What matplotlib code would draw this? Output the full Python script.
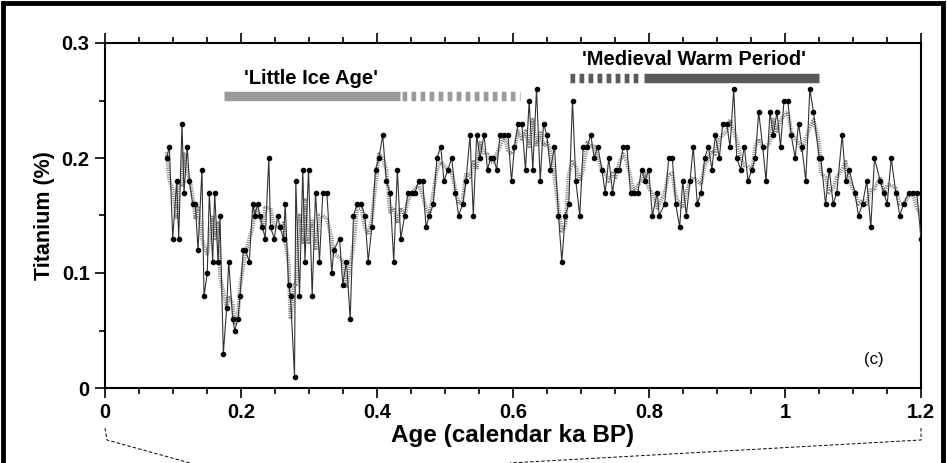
import numpy as np
import pandas as pd
import matplotlib
matplotlib.use("Agg")
import matplotlib.pyplot as plt
from matplotlib.patches import Rectangle
from matplotlib.lines import Line2D

plt.rcParams['font.family'] = ['Liberation Sans', 'DejaVu Sans']
plt.rcParams['lines.scale_dashes'] = False

# ── data ──────────────────────────────────────────────────────────────────────
age = [0.0907, 0.0946, 0.0996, 0.1054, 0.1084, 0.1132, 0.1162, 0.1210, 0.1240, 0.1290,
       0.1328, 0.1368, 0.1426, 0.1456, 0.1504, 0.1534, 0.1584, 0.1613, 0.1662, 0.1691,
       0.1740, 0.1790, 0.1819, 0.1878, 0.1907, 0.1956, 0.1985, 0.2034, 0.2066, 0.2121,
       0.2174, 0.2203, 0.2243, 0.2276, 0.2316, 0.2356, 0.2409, 0.2434, 0.2488, 0.2541,
       0.2571, 0.2625, 0.2650, 0.2699, 0.2728, 0.2787, 0.2806, 0.2860, 0.2909, 0.2941,
       0.2993, 0.3047, 0.3096, 0.3154, 0.3203, 0.3262, 0.3335, 0.3365, 0.3449, 0.3497,
       0.3551, 0.3606, 0.3654, 0.3709, 0.3768, 0.3821, 0.3871, 0.3924, 0.3978, 0.4029,
       0.4084, 0.4137, 0.4191, 0.4246, 0.4299, 0.4349, 0.4407, 0.4456, 0.4510, 0.4559,
       0.4613, 0.4672, 0.4721, 0.4769, 0.4828, 0.4882, 0.4937, 0.4985, 0.5044, 0.5099,
       0.5151, 0.5201, 0.5260, 0.5309, 0.5368, 0.5416, 0.5466, 0.5515, 0.5574, 0.5625,
       0.5672, 0.5713, 0.5760, 0.5809, 0.5868, 0.5926, 0.5978, 0.6022, 0.6074, 0.6129,
       0.6184, 0.6238, 0.6291, 0.6346, 0.6400, 0.6449, 0.6497, 0.6551, 0.6610, 0.6669,
       0.6718, 0.6768, 0.6821, 0.6875, 0.6924, 0.6982, 0.7032, 0.7091, 0.7144, 0.7194,
       0.7247, 0.7306, 0.7356, 0.7409, 0.7463, 0.7512, 0.7566, 0.7621, 0.7674, 0.7728,
       0.7776, 0.7835, 0.7890, 0.7941, 0.7996, 0.8049, 0.8122, 0.8151, 0.8231, 0.8290,
       0.8343, 0.8393, 0.8451, 0.8496, 0.8549, 0.8603, 0.8651, 0.8710, 0.8765, 0.8819,
       0.8872, 0.8926, 0.8975, 0.9034, 0.9084, 0.9143, 0.9191, 0.9246, 0.9290, 0.9349,
       0.9401, 0.9456, 0.9515, 0.9563, 0.9613, 0.9672, 0.9721, 0.9779, 0.9828, 0.9882,
       0.9934, 0.9985, 1.0041, 1.0091, 1.0150, 1.0199, 1.0247, 1.0306, 1.0365, 1.0419,
       1.0503, 1.0526, 1.0596, 1.0650, 1.0709, 1.0762, 1.0841, 1.0894, 1.0944, 1.1026,
       1.1081, 1.1140, 1.1203, 1.1262, 1.1316, 1.1400, 1.1453, 1.1503, 1.1562, 1.1629,
       1.1688, 1.1743, 1.1821, 1.1875, 1.1938, 1.2000]
ti = [0.20, 0.21, 0.13, 0.18, 0.13, 0.23, 0.17, 0.21, 0.18, 0.16,
      0.16, 0.12, 0.19, 0.08, 0.10, 0.17, 0.11, 0.17, 0.11, 0.15,
      0.03, 0.07, 0.11, 0.06, 0.05, 0.06, 0.08, 0.12, 0.12, 0.11,
      0.16, 0.15, 0.16, 0.15, 0.14, 0.13, 0.20, 0.14, 0.13, 0.15,
      0.14, 0.13, 0.16, 0.09, 0.08, 0.01, 0.18, 0.08, 0.19, 0.11,
      0.19, 0.08, 0.17, 0.11, 0.17, 0.17, 0.10, 0.12, 0.13, 0.09,
      0.11, 0.06, 0.15, 0.16, 0.16, 0.15, 0.11, 0.14, 0.19, 0.20,
      0.22, 0.18, 0.17, 0.11, 0.19, 0.13, 0.15, 0.17, 0.17, 0.17,
      0.18, 0.18, 0.14, 0.15, 0.16, 0.20, 0.21, 0.18, 0.19, 0.20,
      0.17, 0.15, 0.16, 0.18, 0.22, 0.15, 0.22, 0.20, 0.22, 0.19,
      0.20, 0.20, 0.19, 0.22, 0.22, 0.22, 0.18, 0.21, 0.23, 0.23,
      0.19, 0.25, 0.19, 0.26, 0.18, 0.23, 0.22, 0.19, 0.21, 0.15,
      0.11, 0.15, 0.16, 0.25, 0.18, 0.15, 0.21, 0.21, 0.22, 0.20,
      0.21, 0.19, 0.17, 0.20, 0.17, 0.19, 0.19, 0.21, 0.21, 0.17,
      0.17, 0.17, 0.19, 0.18, 0.19, 0.15, 0.17, 0.15, 0.16, 0.20,
      0.20, 0.16, 0.14, 0.18, 0.15, 0.18, 0.21, 0.16, 0.17, 0.20,
      0.21, 0.19, 0.22, 0.20, 0.23, 0.23, 0.21, 0.26, 0.20, 0.19,
      0.21, 0.18, 0.19, 0.20, 0.24, 0.21, 0.18, 0.24, 0.22, 0.24,
      0.21, 0.25, 0.25, 0.22, 0.20, 0.23, 0.21, 0.18, 0.26, 0.24,
      0.20, 0.20, 0.16, 0.19, 0.16, 0.17, 0.22, 0.18, 0.19, 0.17,
      0.15, 0.16, 0.18, 0.14, 0.20, 0.18, 0.17, 0.16, 0.20, 0.17,
      0.15, 0.16, 0.17, 0.17, 0.17, 0.13]

# climate periods: (solid start, solid end), (dashed start, dashed end)
lia_solid = (0.1755, 0.4338)
lia_dash = (0.4370, 0.6100)
mwp_dash = (0.6840, 0.7890)
mwp_solid = (0.7920, 1.0495)

# ── figure ────────────────────────────────────────────────────────────────────
fig = plt.figure(figsize=(9.47, 4.63), dpi=100)
ax = fig.add_axes([105/947, 1-388/463, 816/947, 345/463])

smooth = pd.Series(ti).rolling(3, center=True, min_periods=1).mean()
ax.plot(age, smooth, color='#8a8a8a', lw=2.8, ls=(0, (0.8, 0.8)), zorder=2)
ax.plot(age, ti, color='#333333', lw=0.8, marker='o', ms=3.0,
        mfc='black', mec='black', zorder=3)

# period bars
bar_lw = 6.8
ax.plot(lia_solid, [0.2543]*2, color='#9a9a9a', lw=bar_lw, solid_capstyle='butt')
ax.plot(lia_dash, [0.2543]*2, color='#9a9a9a', lw=bar_lw, ls=(0, (3.4, 3.1)),
        dash_capstyle='butt')
ax.plot(mwp_dash, [0.2698]*2, color='#5a5a5a', lw=bar_lw, ls=(0, (3.4, 3.1)),
        dash_capstyle='butt')
ax.plot(mwp_solid, [0.2698]*2, color='#5a5a5a', lw=bar_lw, solid_capstyle='butt')
ax.text(0.303, 0.261, "'Little Ice Age'", ha='center', va='bottom',
        fontsize=14.5, fontweight='bold')
ax.text(0.866, 0.2775, "'Medieval Warm Period'", ha='center', va='bottom',
        fontsize=14.5, fontweight='bold')
ax.text(1.13, 0.018, "(c)", ha='center', va='bottom', fontsize=12)

ax.set_xlim(0, 1.2)
ax.set_ylim(0, 0.3)
ax.set_xticks([0, 0.2, 0.4, 0.6, 0.8, 1.0, 1.2])
ax.set_xticklabels(['0', '0.2', '0.4', '0.6', '0.8', '1', '1.2'])
ax.set_xticks(np.arange(0, 1.21, 0.05), minor=True)
ax.set_yticks([0, 0.1, 0.2, 0.3])
ax.set_yticklabels(['0', '0.1', '0.2', '0.3'])
ax.set_yticks(np.arange(0, 0.31, 0.05), minor=True)
ax.tick_params(which='both', direction='out', top=True, right=False, width=1.2,
               labelsize=14.5)
ax.tick_params(which='major', length=7, pad=4)
ax.tick_params(which='minor', length=4)
for lab in ax.get_xticklabels() + ax.get_yticklabels():
    lab.set_fontweight('bold')
for sp in ax.spines.values():
    sp.set_linewidth(1.5)
ax.set_xlabel('Age (calendar ka BP)', fontsize=17.5, fontweight='bold', labelpad=1)
ax.set_ylabel('Titanium (%)', fontsize=15.5, fontweight='bold', labelpad=5)

# frame round the panel and the dashed connectors below it
fig.patches.append(Rectangle((3/947, -0.2), 940/947, 1.2 - 3/463,
                             transform=fig.transFigure, fill=False, lw=3.5,
                             edgecolor='black'))
conn = dict(transform=fig.transFigure, color='black', lw=0.7, ls=(0, (2.5, 1.5)))
fig.lines.append(Line2D([105/947, 107/947, 190/947],
                        [1-428/463, 1-440/463, 0.0], **conn))
fig.lines.append(Line2D([921/947, 921/947, 510/947],
                        [1-428/463, 1-440/463, 0.0], **conn))

fig.savefig("out.png", dpi=100)
